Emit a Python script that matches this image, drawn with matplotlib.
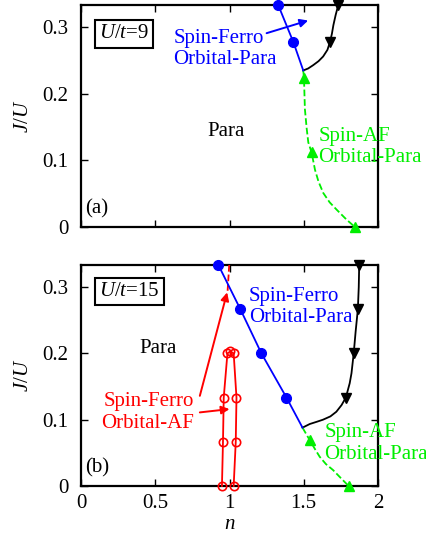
import numpy as np
import matplotlib.pyplot as plt

plt.rcParams['font.family'] = ['Liberation Serif', 'DejaVu Serif']
plt.rcParams['mathtext.fontset'] = 'custom'
plt.rcParams['mathtext.it'] = 'Liberation Serif:italic'
plt.rcParams['mathtext.rm'] = 'Liberation Serif'

BLUE = '#0000ff'
GREEN = '#00ee00'
RED = '#ff0000'

# ---- panel (a), U/t = 9 ----
a_blue_n = [1.328, 1.43, 1.497]
a_blue_j = [1/3, 2.5/9, 0.235]
a_black_n = [1.497, 1.53, 1.564, 1.60, 1.631, 1.66, 1.677, 1.69, 1.70, 1.715, 1.733]
a_black_j = [0.235, 0.238, 0.243, 0.249, 0.256, 0.266, 2.5/9, 0.29, 0.303, 0.318, 1/3]
a_black_mark = [6, 10]
a_green_n = [1.497, 1.502, 1.508, 1.52, 1.531, 1.553, 1.576, 1.60, 1.632, 1.675, 1.722, 1.789, 1.845]
a_green_j = [0.235, 0.223, 0.177, 0.148, 0.127, 0.112, 0.086, 0.068, 0.051, 0.037, 0.026, 0.011, 0.0]
a_green_mark = [1, 5, 12]

# ---- panel (b), U/t = 15 ----
b_blue_n = [0.925, 1.073, 1.215, 1.384, 1.492]
b_blue_j = [1/3, 4/15, 3/15, 2/15, 0.088]
b_black_n = [1.492, 1.541, 1.59, 1.63, 1.68, 1.72, 1.755, 1.784, 1.81, 1.822, 1.837,
             1.85, 1.865, 1.871, 1.874]
b_black_j = [0.088, 0.0935, 0.097, 0.100, 0.105, 0.112, 0.122, 2/15, 0.155, 0.170, 3/15,
             0.233, 4/15, 0.30, 1/3]
b_black_mark = [7, 10, 12, 14]
b_green_n = [1.492, 1.541, 1.575, 1.608, 1.65, 1.698, 1.75, 1.803]
b_green_j = [0.088, 0.069, 0.056, 0.044, 0.033, 0.024, 0.012, 0.0]
b_green_mark = [1, 7]
b_red_n = [0.949, 0.956, 0.961, 0.986, 1.006, 1.028, 1.047, 1.042, 1.028]
b_red_j = [0.0, 1/15, 2/15, 3/15, 0.203, 3/15, 2/15, 1/15, 0.0]
b_red_dash_n = [0.998, 0.986]
b_red_dash_j = [1/3, 0.29]

xticks = [0, 0.5, 1, 1.5, 2]
xticklabels = ['0', '0.5', '1', '1.5', '2']
yticks = [0, 0.1, 0.2, 0.3]
yticklabels = ['0', '0.1', '0.2', '0.3']

FS = 15
LS = 1.18

fig = plt.figure(figsize=(4.27, 5.36), dpi=100)
ax1 = fig.add_axes([0.19, 0.5765, 0.695, 0.4142])
ax2 = fig.add_axes([0.19, 0.0933, 0.695, 0.4123])

for ax in (ax1, ax2):
    ax.set_xlim(0, 2)
    ax.set_ylim(0, 1/3)
    ax.set_xticks(xticks)
    ax.set_yticks(yticks)
    ax.set_yticklabels(yticklabels)
    ax.tick_params(direction='in', top=True, right=True, length=5, width=1.0,
                   labelsize=FS)
    ax.tick_params(axis='y', pad=9)
    ax.tick_params(axis='x', pad=6)
    for s in ax.spines.values():
        s.set_linewidth(1.6)
    ax.set_ylabel('$J/U$', fontsize=FS, labelpad=7)

ax1.set_xticklabels([])
ax2.set_xticklabels(xticklabels)
ax2.set_xlabel('$n$', fontsize=FS, labelpad=1)

lw = 1.3
arrow_kw = dict(arrowstyle='-|>', mutation_scale=12, lw=1.4, shrinkA=0, shrinkB=0)

# panel (a)
ax1.plot(a_blue_n, a_blue_j, color=BLUE, lw=lw, clip_on=False, zorder=4)
ax1.plot(a_blue_n[:2], a_blue_j[:2], 'o', color=BLUE, ms=7, clip_on=False, zorder=5)
ax1.plot(a_black_n, a_black_j, color='k', lw=lw, clip_on=False, zorder=3)
ax1.plot(np.array(a_black_n)[a_black_mark], np.array(a_black_j)[a_black_mark], 'v',
         color='k', ms=6.5, clip_on=False, zorder=5)
ax1.plot(a_green_n, a_green_j, '--', color=GREEN, lw=lw, clip_on=False, zorder=3)
ax1.plot(np.array(a_green_n)[a_green_mark], np.array(a_green_j)[a_green_mark], '^',
         color=GREEN, ms=6.5, clip_on=False, zorder=5)

ax1.text(0.62, 0.267, 'Spin-Ferro\nOrbital-Para', color=BLUE, fontsize=FS,
         va='center', ha='left', linespacing=LS)
ax1.annotate('', xy=(1.53, 0.31), xytext=(1.25, 0.291),
             arrowprops=dict(color=BLUE, **arrow_kw))
ax1.text(1.6, 0.12, 'Spin-AF\nOrbital-Para', color=GREEN, fontsize=FS,
         va='center', ha='left', linespacing=LS, clip_on=False)
ax1.text(0.98, 0.143, 'Para', fontsize=FS, ha='center', va='center')
ax1.text(0.03, 0.027, '(a)', fontsize=FS, ha='left', va='center')
ax1.text(0.12, 0.29, '$U/t$=9', fontsize=FS, ha='left', va='center',
         bbox=dict(boxstyle='square,pad=0.2', fc='white', ec='k', lw=1.5))

# panel (b)
ax2.plot(b_blue_n, b_blue_j, color=BLUE, lw=lw, clip_on=False, zorder=4)
ax2.plot(b_blue_n[:4], b_blue_j[:4], 'o', color=BLUE, ms=7, clip_on=False, zorder=5)
ax2.plot(b_black_n, b_black_j, color='k', lw=lw, clip_on=False, zorder=3)
ax2.plot(np.array(b_black_n)[b_black_mark], np.array(b_black_j)[b_black_mark], 'v',
         color='k', ms=6.5, clip_on=False, zorder=5)
ax2.plot(b_green_n, b_green_j, '--', color=GREEN, lw=lw, clip_on=False, zorder=3)
ax2.plot(np.array(b_green_n)[b_green_mark], np.array(b_green_j)[b_green_mark], '^',
         color=GREEN, ms=6.5, clip_on=False, zorder=5)
ax2.plot(b_red_n, b_red_j, '-o', color=RED, lw=lw, ms=6, mfc='none', mew=1.2,
         clip_on=False, zorder=4)
ax2.plot(b_red_dash_n, b_red_dash_j, '--', color=RED, lw=lw, zorder=3)

ax2.text(1.13, 0.27, 'Spin-Ferro\nOrbital-Para', color=BLUE, fontsize=FS,
         va='center', ha='left', linespacing=LS)
ax2.text(1.64, 0.064, 'Spin-AF\nOrbital-Para', color=GREEN, fontsize=FS,
         va='center', ha='left', linespacing=LS, clip_on=False)
ax2.text(0.76, 0.111, 'Spin-Ferro\nOrbital-AF', color=RED, fontsize=FS,
         va='center', ha='right', linespacing=LS)
ax2.annotate('', xy=(0.984, 0.292), xytext=(0.80, 0.136),
             arrowprops=dict(color=RED, **arrow_kw))
ax2.annotate('', xy=(1.0, 0.116), xytext=(0.80, 0.111),
             arrowprops=dict(color=RED, **arrow_kw))
ax2.text(0.52, 0.207, 'Para', fontsize=FS, ha='center', va='center')
ax2.text(0.03, 0.027, '(b)', fontsize=FS, ha='left', va='center')
ax2.text(0.12, 0.293, '$U/t$=15', fontsize=FS, ha='left', va='center',
         bbox=dict(boxstyle='square,pad=0.2', fc='white', ec='k', lw=1.5))

fig.savefig('out.png', dpi=100)
